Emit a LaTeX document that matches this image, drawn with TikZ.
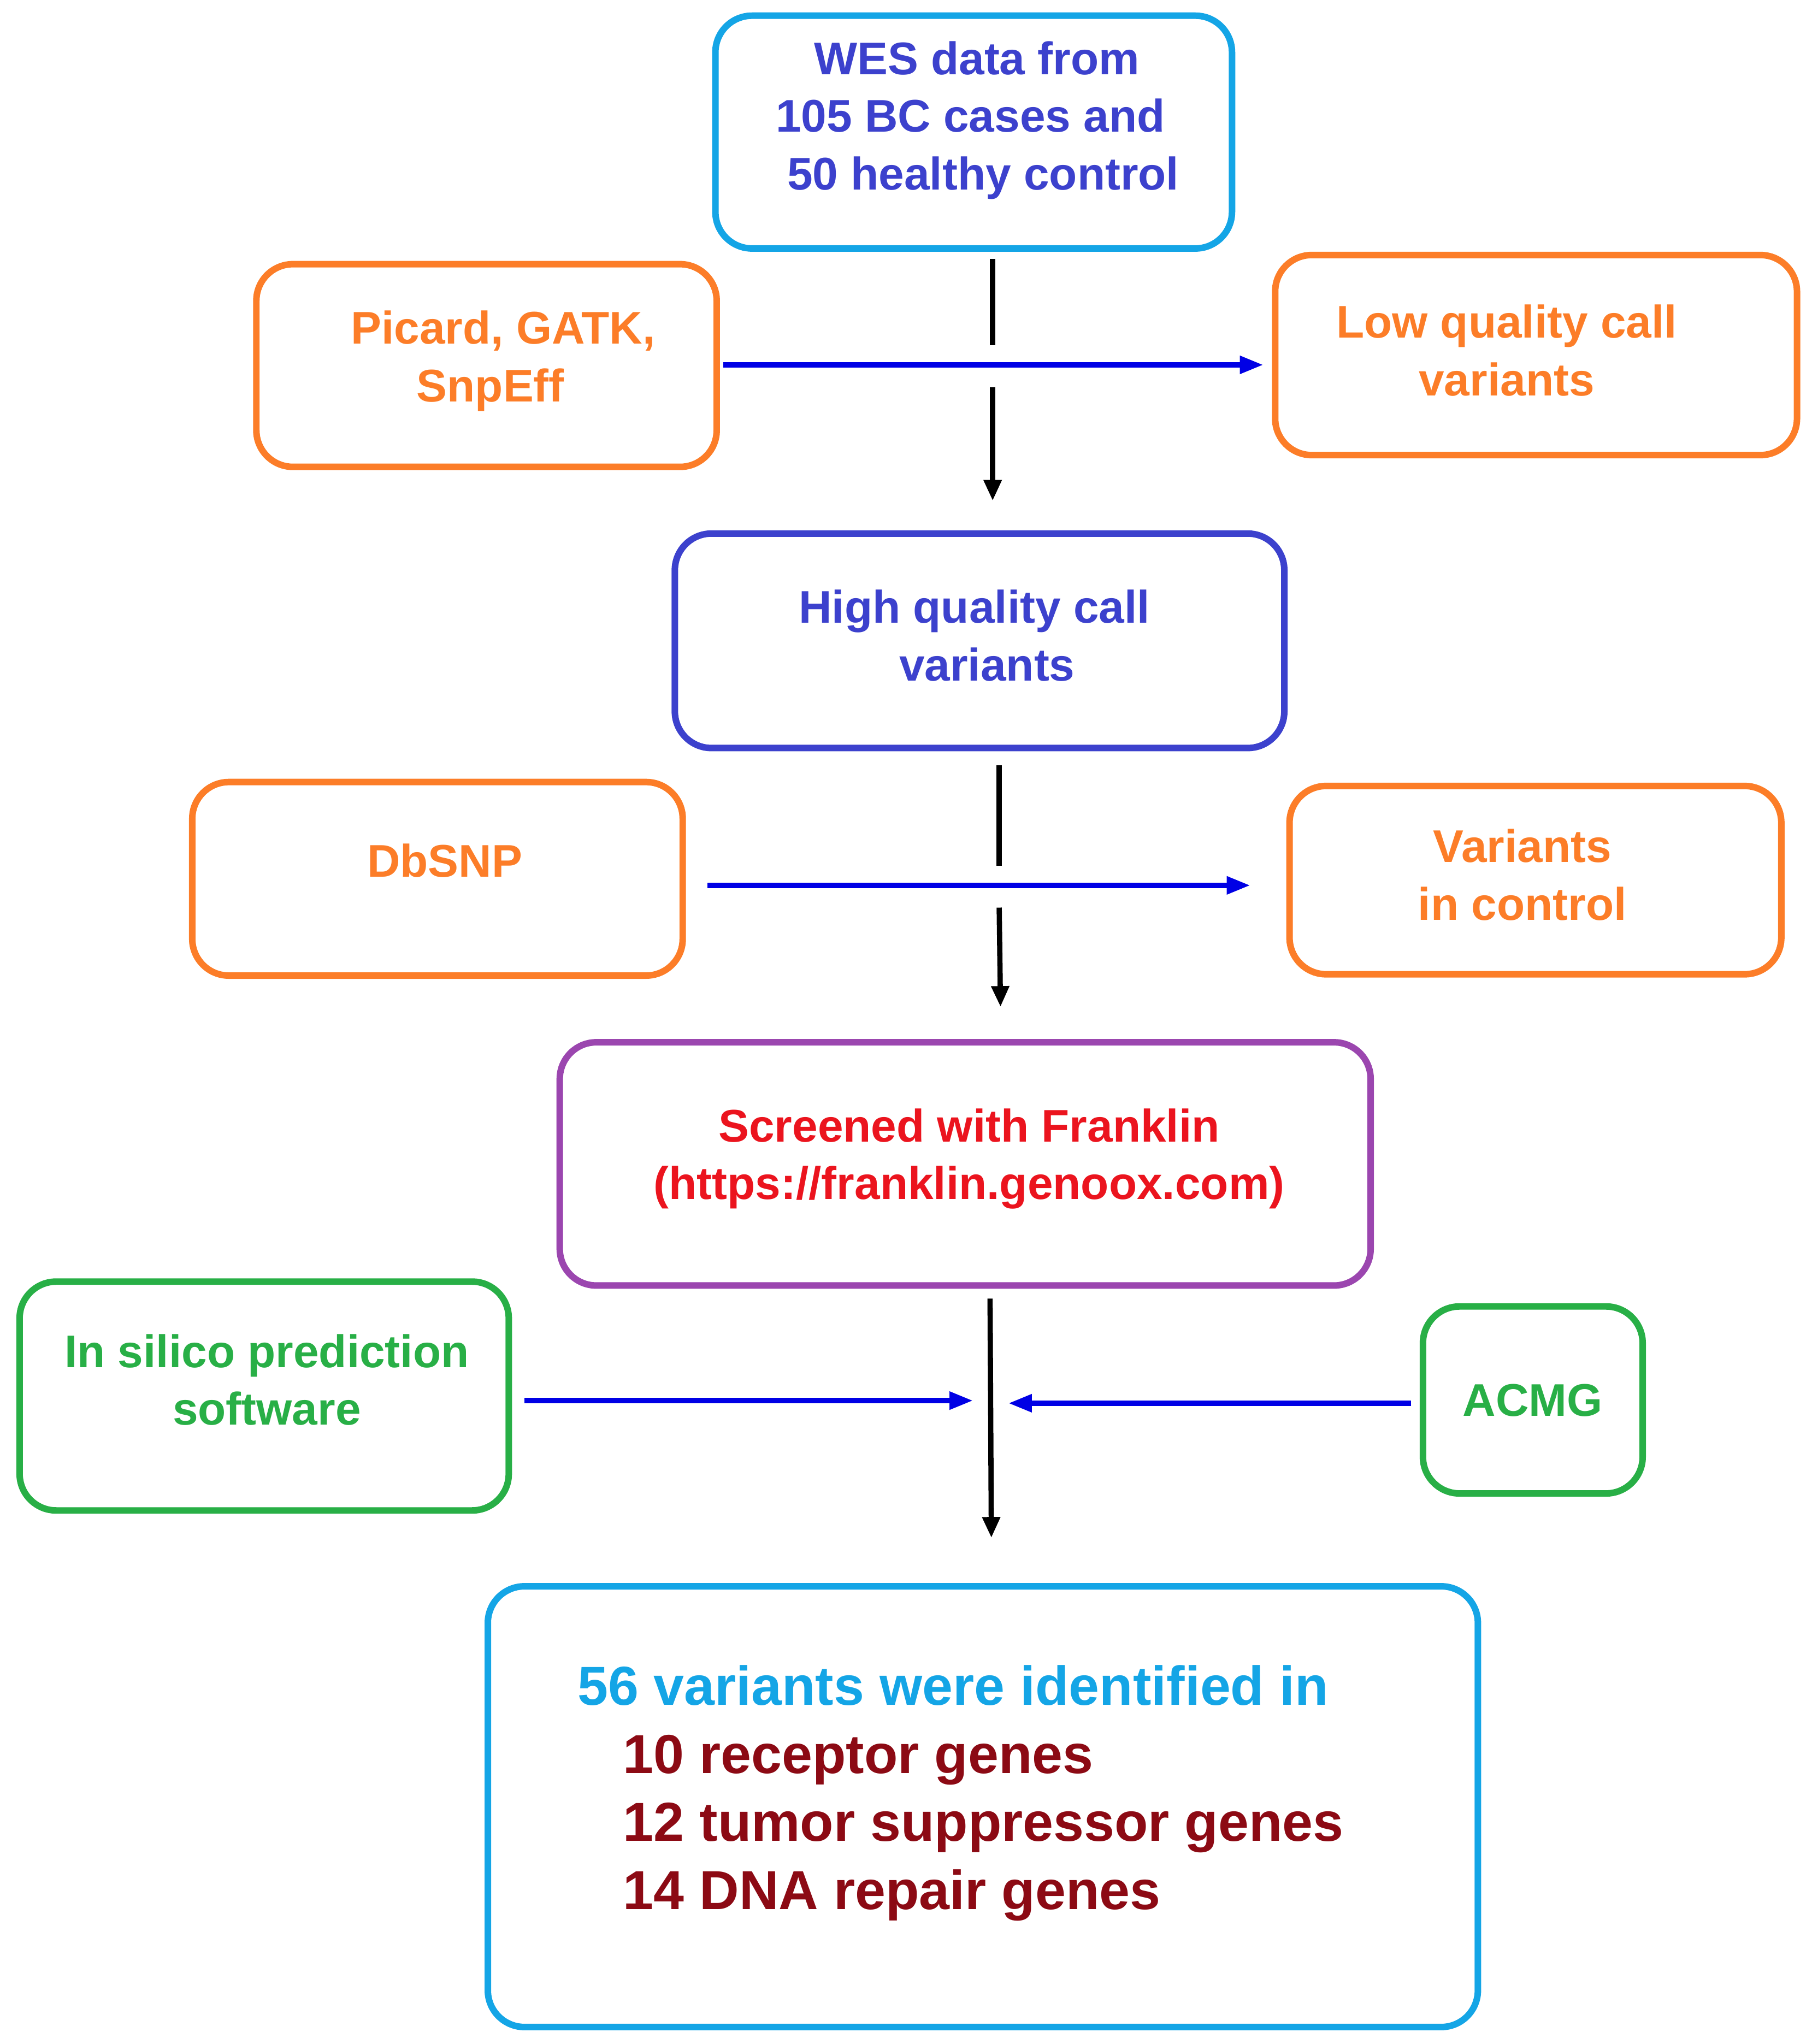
\documentclass[tikz,border=0pt]{standalone}
\usepackage{fontspec}
\setmainfont{Liberation Sans}
\usetikzlibrary{arrows.meta}
\definecolor{cy}{RGB}{20,165,230}
\definecolor{bl}{RGB}{60,65,205}
\definecolor{org}{RGB}{252,125,40}
\definecolor{pur}{RGB}{155,70,175}
\definecolor{rd}{RGB}{235,20,30}
\definecolor{gr}{RGB}{40,175,70}
\definecolor{dr}{RGB}{140,10,20}
\begin{document}
\begin{tikzpicture}[x=1pt,y=-1pt,
 box/.style={draw=#1,line width=5pt,rounded corners=28pt},
 txt/.style={font=\bfseries\fontsize{35}{44}\selectfont,align=center,text=#1},
 bar/.style={line width=4pt,black},
 barr/.style={bar,-{Triangle[length=16pt,width=13pt]}},
 blu/.style={line width=4pt,blue!90!black,-{Triangle[length=18pt,width=13pt]}}]
\useasboundingbox (0,0) rectangle (1390,1563);
\draw[box=cy] (547,12) rectangle (942,190);
\node[txt=bl] (wes) at (742,92) {\ WES data from\\105 BC cases and\\\ \ 50 healthy control};
\draw[box=org] (196,202) rectangle (548,357);
\node[txt=org] (pic) at (375,276) {\ \ Picard, GATK,\\SnpEff};
\draw[box=org] (975,195) rectangle (1374,348);
\node[txt=org] (low) at (1152,268) {Low quality call\\variants};
\draw[box=bl] (516,408) rectangle (982,572);
\node[txt=bl] (hq) at (745,486) {High quality call\\\ \ variants};
\draw[box=org] (147,598) rectangle (522,746);
\node[txt=org] (db) at (340,658) {DbSNP};
\draw[box=org] (986,601) rectangle (1362,745);
\node[txt=org] (vc) at (1164,669) {Variants\\in control};
\draw[box=pur] (428,797) rectangle (1048,983);
\node[txt=rd] (fr) at (741,886) {Screened with Franklin\\(https://franklin.genoox.com)};
\draw[box=gr] (15,980) rectangle (389,1155);
\node[txt=gr] (sil) at (204,1055) {In silico prediction\\software};
\draw[box=gr] (1088,999) rectangle (1256,1142);
\node[txt=gr] (acmg) at (1172,1071) {ACMG};
\draw[box=cy] (373,1213) rectangle (1130,1550);
\node[font=\bfseries\fontsize{42}{52}\selectfont,align=left,anchor=north west] (res) at (438,1270)
 {\textcolor{cy}{56 variants were identified in}\\\textcolor{dr}{\ \ \ 10 receptor genes}\\\textcolor{dr}{\ \ \ 12 tumor suppressor genes}\\\textcolor{dr}{\ \ \ 14 DNA repair genes}};
% arrows
\coordinate (a1) at (759,198); \coordinate (a2) at (759,264);
\coordinate (a3) at (759,296); \coordinate (a4) at (759,383);
\draw[bar] (a1)--(a2); \draw[barr] (a3)--(a4);
\coordinate (b1) at (553,279); \coordinate (b2) at (966,279);
\draw[blu] (b1)--(b2);
\coordinate (c1) at (764,585); \coordinate (c2) at (764,662);
\coordinate (c3) at (764,694); \coordinate (c4) at (765,770);
\draw[bar] (c1)--(c2); \draw[barr] (c3)--(c4);
\coordinate (d1) at (541,677); \coordinate (d2) at (956,677);
\draw[blu] (d1)--(d2);
\coordinate (e1) at (757,993); \coordinate (e2) at (758,1176);
\draw[barr] (e1)--(e2);
\coordinate (f1) at (401,1071); \coordinate (f2) at (744,1071);
\draw[blu] (f1)--(f2);
\coordinate (g1) at (1079,1073); \coordinate (g2) at (771,1073);
\draw[blu] (g1)--(g2);
\end{tikzpicture}
\end{document}
